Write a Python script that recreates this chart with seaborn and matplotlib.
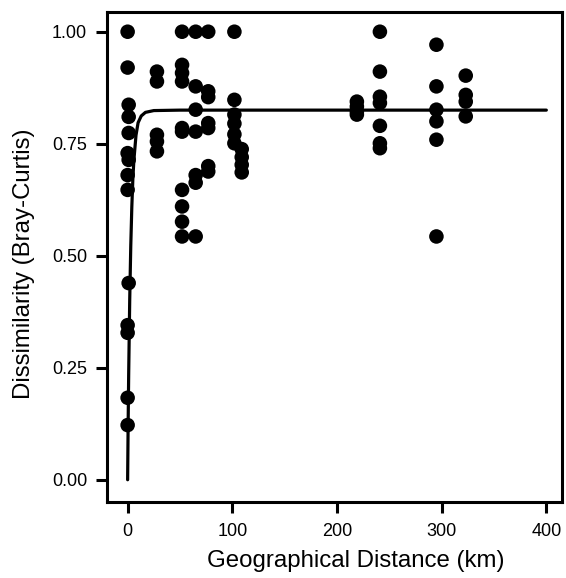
import pandas as pd
import matplotlib
matplotlib.use("Agg")
import matplotlib.pyplot as plt
import seaborn as sns

# Pairwise samples: geographical distance (km) vs Bray-Curtis dissimilarity
distance_km = [
    0, 0, 1, 1, 1, 0, 1, 0, 0, 1, 0, 0, 0, 0,
    28, 28, 28, 28, 28,
    52, 52, 52, 52, 52, 52, 52, 52, 52, 52,
    65, 65, 65, 65, 65, 65, 65,
    77, 77, 77, 77, 77, 77, 77,
    102, 102, 102, 102, 102, 102,
    109, 109, 109, 109,
    219, 219, 219, 219,
    241, 241, 241, 241, 241, 241, 241,
    295, 295, 295, 295, 295, 295,
    323, 323, 323, 323,
]
dissimilarity = [
    1.00, 0.92, 0.837, 0.81, 0.774, 0.729, 0.714, 0.68, 0.647, 0.439, 0.345, 0.328, 0.183, 0.122,
    0.911, 0.889, 0.770, 0.755, 0.733,
    1.00, 0.926, 0.908, 0.889, 0.785, 0.777, 0.647, 0.610, 0.576, 0.543,
    1.00, 0.878, 0.826, 0.777, 0.680, 0.663, 0.543,
    1.00, 0.867, 0.854, 0.796, 0.785, 0.700, 0.688,
    1.00, 0.848, 0.815, 0.795, 0.771, 0.751,
    0.738, 0.720, 0.703, 0.686,
    0.844, 0.833, 0.822, 0.815,
    1.00, 0.911, 0.855, 0.841, 0.790, 0.751, 0.740,
    0.971, 0.878, 0.826, 0.800, 0.759, 0.543,
    0.902, 0.859, 0.844, 0.811,
]

# Fitted saturating curve
fit_km = [0, 0.5, 1, 2, 3, 4, 5, 6, 8, 10, 13, 17, 25, 50, 400]
fit_value = [0.0, 0.127, 0.234, 0.402, 0.522, 0.609, 0.672, 0.714, 0.769, 0.797, 0.812, 0.820, 0.824, 0.825, 0.825]

x_ticks = [0, 100, 200, 300, 400]
y_ticks = [0.00, 0.25, 0.50, 0.75, 1.00]

points = pd.DataFrame({"distance": distance_km, "dissimilarity": dissimilarity})
curve = pd.DataFrame({"distance": fit_km, "dissimilarity": fit_value})

sns.set_style("ticks")
plt.rcParams["font.family"] = ["Liberation Sans", "DejaVu Sans"]
plt.rcParams["text.color"] = "black"
plt.rcParams["axes.labelcolor"] = "black"

fig = plt.figure(figsize=(5.66, 5.78), dpi=100)
ax = fig.add_axes([0.1885, 0.132, 0.8045, 0.848])

sns.scatterplot(data=points, x="distance", y="dissimilarity", ax=ax,
                color="black", s=110, edgecolor="none", linewidth=0)
sns.lineplot(data=curve, x="distance", y="dissimilarity", ax=ax,
             color="black", linewidth=2.3, sort=False)

ax.set_xlim(-20, 415)
ax.set_ylim(-0.049, 1.045)
ax.set_xticks(x_ticks)
ax.set_xticklabels([str(t) for t in x_ticks])
ax.set_yticks(y_ticks)
ax.set_yticklabels([f"{t:.2f}" for t in y_ticks])

for side in ax.spines.values():
    side.set_linewidth(2.2)
    side.set_color("black")
ax.tick_params(axis="both", length=8, width=2.2, color="black",
               labelsize=13, labelcolor="black", direction="out")
ax.tick_params(axis="x", pad=7)
ax.tick_params(axis="y", pad=6)

ax.set_xlabel("Geographical Distance (km)", fontsize=17.3, color="black")
ax.set_ylabel("Dissimilarity (Bray-Curtis)", fontsize=17.3, color="black")
# R places the titles a little off-centre here
ax.xaxis.set_label_coords(0.548, -0.098)
ax.yaxis.set_label_coords(-0.158, 0.485)

fig.savefig("out.png", dpi=100)
